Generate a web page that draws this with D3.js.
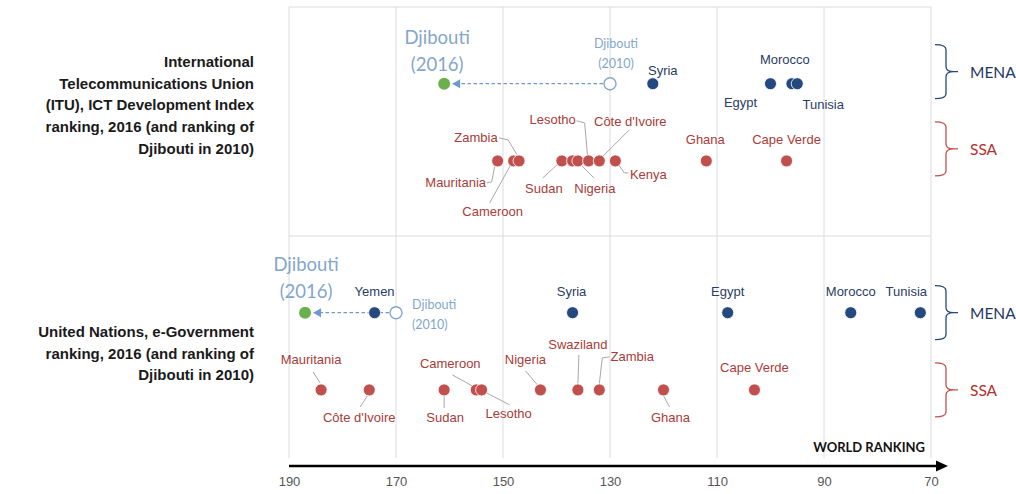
<!DOCTYPE html>
<html>
<head>
<meta charset="utf-8">
<script src="https://cdn.jsdelivr.net/npm/d3@7"></script>
<style>
  html, body { margin: 0; padding: 0; background: #ffffff; }
  svg { display: block; }
  text { font-family: "Liberation Sans", Arial, sans-serif; }
</style>
</head>
<body>
<svg id="chart" width="1016" height="494"></svg>
<script>
// ---- Data -------------------------------------------------------------
const panels = ["ITU", "UN"];
const panelTitles = [
  ["International", "Telecommunications Union", "(ITU), ICT Development Index", "ranking, 2016 (and ranking of", "Djibouti in 2010)"],
  ["United Nations, e-Government", "ranking, 2016 (and ranking of", "Djibouti in 2010)"]
];
const regions = ["MENA", "SSA"];
const tickValues = [190, 170, 150, 130, 110, 90, 70];
const axisTitle = "WORLD RANKING";

// ITU ICT Development Index ranking, 2016
const ituMena = [
  { country: "Syria", rank: 122 },
  { country: "Egypt", rank: 100 },
  { country: "Morocco", rank: 96 },
  { country: "Tunisia", rank: 95 }
];
const ituSsa = [
  { country: "Mauritania", rank: 151 },
  { country: "Cameroon", rank: 148 },
  { country: "Zambia", rank: 147 },
  { country: "Sudan", rank: 139 },
  { country: "Swaziland", rank: 137 },
  { country: "Nigeria", rank: 136 },
  { country: "Lesotho", rank: 134 },
  { country: "Côte d'Ivoire", rank: 132 },
  { country: "Kenya", rank: 129 },
  { country: "Ghana", rank: 112 },
  { country: "Cape Verde", rank: 97 }
];
const ituDjibouti = { 2010: 130, 2016: 161 };

// UN e-Government ranking, 2016
const unMena = [
  { country: "Yemen", rank: 174 },
  { country: "Syria", rank: 137 },
  { country: "Egypt", rank: 108 },
  { country: "Morocco", rank: 85 },
  { country: "Tunisia", rank: 72 }
];
const unSsa = [
  { country: "Mauritania", rank: 184 },
  { country: "Côte d'Ivoire", rank: 175 },
  { country: "Sudan", rank: 161 },
  { country: "Cameroon", rank: 155 },
  { country: "Lesotho", rank: 154 },
  { country: "Nigeria", rank: 143 },
  { country: "Swaziland", rank: 136 },
  { country: "Zambia", rank: 132 },
  { country: "Ghana", rank: 120 },
  { country: "Cape Verde", rank: 103 }
];
const unDjibouti = { 2010: 170, 2016: 187 };

// ---- Label layout (offsets from each dot, optional leader polyline) ----
const labelLayout = {
  ITU: {
    MENA: {
      "Syria": { dx: 10, dy: -13 },
      "Egypt": { dx: -30, dy: 19 },
      "Morocco": { dx: -7, dy: -24 },
      "Tunisia": { dx: 26, dy: 21 }
    },
    SSA: {
      "Mauritania": { dx: -42, dy: 22, leader: [[-11, 22], [-6, 21], [-3, 6]] },
      "Cameroon": { dx: -21, dy: 51, leader: [[-24, 42], [-3, 4]] },
      "Zambia": { dx: -43, dy: -23, leader: [[-20, -23], [-11, -21], [-2, -6]] },
      "Sudan": { dx: -18, dy: 28, leader: [[-19, 17], [-5, 4]] },
      "Nigeria": { dx: 17, dy: 28, leader: [[4, 5], [16, 17]] },
      "Lesotho": { dx: -36, dy: -41, leader: [[-12, -40], [-4, -38], [-1, -5]] },
      "Côte d'Ivoire": { dx: 31, dy: -39, leader: [[30, -31], [2, -3]] },
      "Kenya": { dx: 33, dy: 14, leader: [[4, 5], [9, 12], [13, 12]] },
      "Ghana": { dx: -1, dy: -21 },
      "Cape Verde": { dx: 0, dy: -21 }
    },
    djibouti: { label2016: [-7, -46], label2010: [6, -40], anchor2010: "middle" }
  },
  UN: {
    MENA: {
      "Yemen": { dx: 0, dy: -21 },
      "Syria": { dx: -1, dy: -21 },
      "Egypt": { dx: 0, dy: -21 },
      "Morocco": { dx: 0, dy: -21 },
      "Tunisia": { dx: -14, dy: -21 }
    },
    SSA: {
      "Mauritania": { dx: -10, dy: -30, leader: [[-8, -18], [-1, -7]] },
      "Côte d'Ivoire": { dx: -10, dy: 28, leader: [[-9, 17], [-2, 6]] },
      "Sudan": { dx: 1, dy: 28, leader: [[0, 6], [0, 18]] },
      "Cameroon": { dx: -26, dy: -26, leader: [[-24, -15], [-4, -4]] },
      "Lesotho": { dx: 27, dy: 24, leader: [[5, 3], [28, 15]] },
      "Nigeria": { dx: -15, dy: -30, leader: [[-15, -19], [-3, -5]] },
      "Swaziland": { dx: 0, dy: -45, leader: [[1, -35], [0, -6]] },
      "Zambia": { dx: 33, dy: -33, leader: [[10, -33], [3, -32], [0, -6]] },
      "Ghana": { dx: 7, dy: 28, leader: [[0, 6], [6, 17]] },
      "Cape Verde": { dx: 0, dy: -22 }
    },
    djibouti: { label2016: [1, -48], label2010: [16, -8], anchor2010: "start" }
  }
};

// ---- Styling -----------------------------------------------------------
const colors = {
  MENA: "#24497f", SSA: "#c0504d",
  MENAtext: "#2a3d64", SSAtext: "#a83c38",
  djLabel: "#83a6cb", djNew: "#6cb04e", djArrow: "#6f97d4",
  grid: "#dcdcdc", leader: "#a8a8a8", title: "#1a1a1a", tick: "#555555"
};

const svg = d3.select("#chart");

// ---- Scales --------------------------------------------------------------
const x = d3.scaleLinear().domain([190, 70]).range([289, 931]);
const panelY = d3.scaleBand().domain(panels).range([7, 465]).paddingInner(0);
const rowPos = d3.scalePoint().domain(regions).range([0.335, 0.672]);
const rowY = (panel, region) => panelY(panel) + rowPos(region) * panelY.bandwidth();

// ---- Frame and gridlines ------------------------------------------------
const gridBottom = 458;
svg.append("g").selectAll("line").data(tickValues).join("line")
  .attr("x1", d => x(d)).attr("x2", d => x(d))
  .attr("y1", panelY(panels[0])).attr("y2", gridBottom)
  .attr("stroke", colors.grid).attr("stroke-width", 1);
svg.append("g").selectAll("line").data(panels).join("line")
  .attr("x1", x(190)).attr("x2", x(70))
  .attr("y1", d => panelY(d)).attr("y2", d => panelY(d))
  .attr("stroke", colors.grid).attr("stroke-width", 1);

// ---- Axis ---------------------------------------------------------------
const axisY = 466;
const axis = d3.axisBottom(x).tickValues(tickValues).tickSize(0).tickPadding(11)
  .tickFormat(d3.format("d"));
const axisG = svg.append("g").attr("transform", `translate(0,${axisY})`).call(axis);
axisG.select(".domain").remove();
axisG.selectAll("text")
  .attr("fill", colors.tick)
  .style("font-family", "'Liberation Sans', Arial, sans-serif")
  .style("font-size", "13px");

svg.append("line")
  .attr("x1", x(190)).attr("x2", x(70) + 8)
  .attr("y1", axisY).attr("y2", axisY)
  .attr("stroke", "#000").attr("stroke-width", 2.6);
svg.append("path")
  .attr("d", d3.line()([[x(70) + 5, axisY - 5.5], [x(70) + 17, axisY], [x(70) + 5, axisY + 5.5]]) + "Z")
  .attr("fill", "#000");
svg.append("text")
  .attr("x", x(70) - 6).attr("y", axisY - 14)
  .attr("text-anchor", "end")
  .style("font-family", "Lato, 'Open Sans', sans-serif")
  .style("font-weight", "bold").style("font-size", "13px")
  .attr("fill", "#111")
  .text(axisTitle);

// ---- Panel titles --------------------------------------------------------
const titleFirstLine = { ITU: 62, UN: 332 };
panels.forEach((p, i) => {
  svg.append("text")
    .attr("text-anchor", "end")
    .attr("fill", colors.title)
    .style("font-weight", "bold").style("font-size", "15px")
    .selectAll("tspan").data(panelTitles[i]).join("tspan")
    .attr("x", 254)
    .attr("y", (d, j) => titleFirstLine[p] + j * 21.6)
    .attr("dy", "0.35em")
    .text(d => d);
});

// ---- Region braces -----------------------------------------------------
const braceShift = { ITU: -12, UN: 0 };
function bracePath(cy, half) {
  const x0 = 935, x1 = 946, tip = 958, r = 5;
  const top = cy - half, bot = cy + half;
  return `M${x0},${top} Q${x1},${top} ${x1},${top + r} L${x1},${cy - r}` +
         ` Q${x1},${cy} ${tip - 4},${cy} L${tip},${cy} L${tip - 4},${cy}` +
         ` Q${x1},${cy} ${x1},${cy + r} L${x1},${bot - r} Q${x1},${bot} ${x0},${bot}`;
}
panels.forEach(p => {
  regions.forEach(r => {
    const cy = rowY(p, r) + braceShift[p];
    svg.append("path")
      .attr("d", bracePath(cy, 27))
      .attr("fill", "none")
      .attr("stroke", r === "MENA" ? colors.MENA : colors.SSA)
      .attr("stroke-width", 1.3);
    svg.append("text")
      .attr("x", 970).attr("y", cy + 1).attr("dy", "0.35em")
      .style("font-family", "Lato, 'Open Sans', sans-serif")
      .style("font-size", "15.5px")
      .attr("fill", r === "MENA" ? "#1f3864" : "#b5302c")
      .text(r);
  });
});

// ---- Country dots and labels ------------------------------------------
const series = {
  ITU: { MENA: ituMena, SSA: ituSsa, djibouti: ituDjibouti },
  UN: { MENA: unMena, SSA: unSsa, djibouti: unDjibouti }
};
const R = 6;

panels.forEach(p => {
  const layout = labelLayout[p];

  // Djibouti: dashed arrow from 2010 to 2016 position
  const dj = series[p].djibouti;
  const djY = rowY(p, "MENA");
  const x10 = x(dj[2010]), x16 = x(dj[2016]);
  svg.append("line")
    .attr("x1", x10 - R - 1).attr("x2", x16 + 14)
    .attr("y1", djY).attr("y2", djY)
    .attr("stroke", colors.djArrow).attr("stroke-width", 1.3)
    .attr("stroke-dasharray", "3.5,2.5");
  svg.append("path")
    .attr("d", d3.line()([[x16 + 8, djY], [x16 + 16, djY - 4.5], [x16 + 16, djY + 4.5]]) + "Z")
    .attr("fill", colors.djArrow);

  // Leader lines
  regions.forEach(r => {
    const g = svg.append("g");
    series[p][r].forEach(d => {
      const lay = layout[r][d.country];
      if (!lay || !lay.leader) return;
      const cx = x(d.rank), cy = rowY(p, r);
      g.append("path")
        .attr("d", d3.line()(lay.leader.map(([a, b]) => [cx + a, cy + b])))
        .attr("fill", "none")
        .attr("stroke", colors.leader).attr("stroke-width", 1);
    });
  });

  // Dots
  regions.forEach(r => {
    svg.append("g").selectAll("circle").data(series[p][r]).join("circle")
      .attr("cx", d => x(d.rank))
      .attr("cy", rowY(p, r))
      .attr("r", R)
      .attr("fill", colors[r])
      .attr("stroke", "#ffffff").attr("stroke-width", 0.8);
  });

  svg.append("circle")
    .attr("cx", x10).attr("cy", djY).attr("r", R)
    .attr("fill", "#ffffff").attr("stroke", colors.djLabel).attr("stroke-width", 1.4);
  svg.append("circle")
    .attr("cx", x16).attr("cy", djY).attr("r", R)
    .attr("fill", colors.djNew);

  // Country labels
  regions.forEach(r => {
    svg.append("g").selectAll("text")
      .data(series[p][r].filter(d => layout[r][d.country]))
      .join("text")
      .attr("x", d => x(d.rank) + layout[r][d.country].dx)
      .attr("y", d => rowY(p, r) + layout[r][d.country].dy)
      .attr("dy", "0.35em")
      .attr("text-anchor", "middle")
      .style("font-size", "13px")
      .attr("fill", r === "MENA" ? colors.MENAtext : colors.SSAtext)
      .text(d => d.country);
  });

  // Djibouti labels
  const l16 = layout.djibouti.label2016, l10 = layout.djibouti.label2010;
  svg.append("text")
    .attr("text-anchor", "middle")
    .style("font-family", "Lato, 'Open Sans', sans-serif")
    .style("font-size", "18.5px")
    .attr("fill", colors.djLabel)
    .selectAll("tspan").data(["Djibouti", "(2016)"]).join("tspan")
    .attr("x", x16 + l16[0])
    .attr("y", (d, j) => djY + l16[1] + j * 26.5)
    .attr("dy", "0.35em")
    .text(d => d);
  svg.append("text")
    .attr("text-anchor", layout.djibouti.anchor2010)
    .style("font-family", "Lato, 'Open Sans', sans-serif")
    .style("font-size", "12.5px")
    .attr("fill", colors.djLabel)
    .selectAll("tspan").data(["Djibouti", "(2010)"]).join("tspan")
    .attr("x", x10 + l10[0])
    .attr("y", (d, j) => djY + l10[1] + j * 19.5)
    .attr("dy", "0.35em")
    .text(d => d);
});
</script>
</body>
</html>
